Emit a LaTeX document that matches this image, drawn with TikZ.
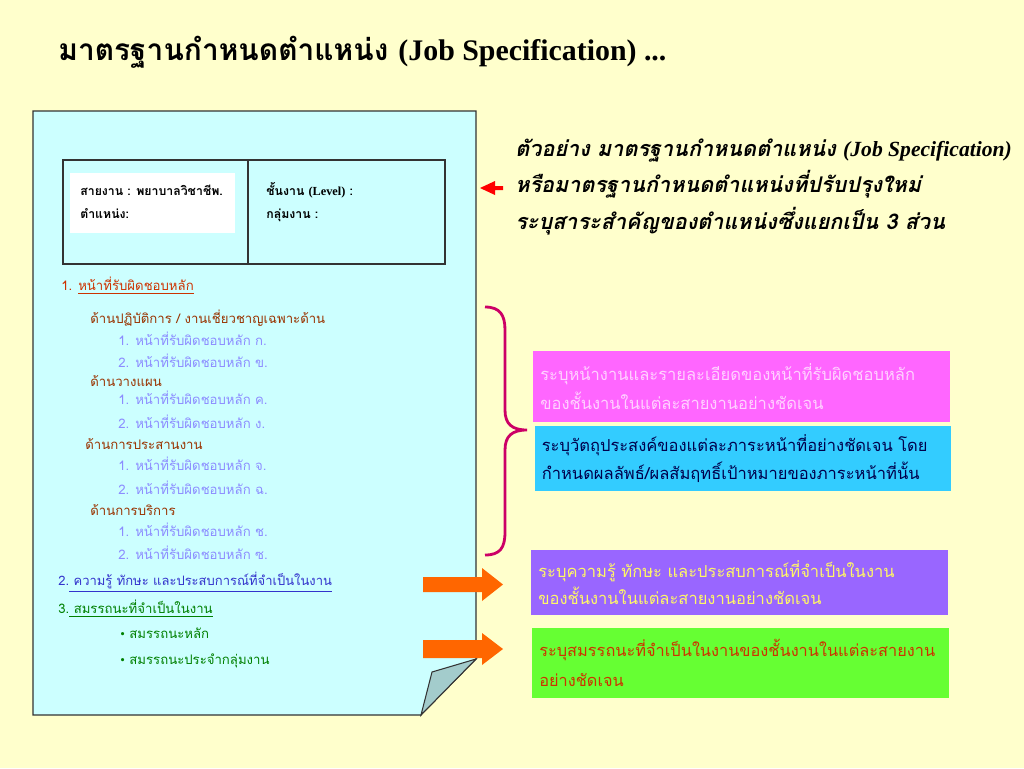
\documentclass[tikz,border=0pt]{standalone}
\usepackage{fontspec}
\setmainfont{Liberation Serif}
\newfontfamily\thai[Script=Thai]{Loma}
\usetikzlibrary{positioning}
\definecolor{bgyellow}{HTML}{FFFFCC}
\definecolor{pagecyan}{HTML}{CCFFFF}
\definecolor{foldgray}{HTML}{A3CCCC}
\definecolor{headred}{HTML}{CC3300}
\definecolor{subbrown}{HTML}{993300}
\definecolor{itemblue}{HTML}{8C8CFF}
\definecolor{knowblue}{HTML}{3333CC}
\definecolor{compgreen}{HTML}{008000}
\definecolor{bracecol}{HTML}{CC0066}
\definecolor{pinkbox}{HTML}{FF66FF}
\definecolor{cyanbox}{HTML}{33CCFF}
\definecolor{purplebox}{HTML}{9966FF}
\definecolor{greenbox}{HTML}{66FF33}
\definecolor{arroworange}{HTML}{FF6600}
\tikzset{
  item/.style={anchor=west, inner sep=0pt, font=\thai\fontsize{7.5}{9}\selectfont},
  cell/.style={anchor=west, inner sep=0pt, align=left,
               font=\thai\bfseries\fontsize{7}{13}\selectfont},
  infobox/.style={inner sep=0pt, align=left, text width=8.05cm,
                  minimum width=8.34cm, font=\thai\fontsize{9.4}{17}\selectfont},
  bracelink/.style={draw=bracecol, line width=1.6pt},
  blockarrow/.style={fill=arroworange}
}
\begin{document}
\begin{tikzpicture}[x=0.02cm,y=-0.02cm]
  \fill[bgyellow] (0,0) rectangle (1024,768);
  \useasboundingbox (0,0) rectangle (1024,768);

  % title
  \node[anchor=west, inner sep=0pt] (title) at (58,52)
    {\thai\bfseries\fontsize{17}{20}\selectfont มาตรฐานกำหนดตำแหน่ง
     {\rmfamily\bfseries (Job Specification) ...}};

  % page with folded corner
  \draw[fill=pagecyan, draw=black!80, line width=0.6pt]
    (33,111) -- (476,111) -- (476,659) -- (421,715) -- (33,715) -- cycle;
  \draw[fill=foldgray, draw=black!80, line width=0.6pt]
    (476,659) -- (432,672) -- (421,715) -- cycle;

  % heading table
  \draw[draw=black!80, line width=0.6pt] (63,160) rectangle (445,264);
  \draw[draw=black!80, line width=0.6pt] (248,160) -- (248,264);
  \fill[white] (70,173) rectangle (235,233);
  \node[cell] (line) at (80,202) {สายงาน : พยาบาลวิชาชีพ.\\ตำแหน่ง:};
  \node[cell] (level) at (266,202) {ชั้นงาน {\rmfamily(Level)} :\\กลุ่มงาน :};

  % part 1
  \node[item, text=headred] (duty) at (61,286)
    {1. \underline{หน้าที่รับผิดชอบหลัก}};
  \node[item, text=subbrown] (oper) at (90,318) {ด้านปฏิบัติการ / งานเชี่ยวชาญเฉพาะด้าน};
  \node[item, text=itemblue] (oper1) at (118,339) {1. หน้าที่รับผิดชอบหลัก ก.};
  \node[item, text=itemblue] (oper2) at (118,361) {2. หน้าที่รับผิดชอบหลัก ข.};
  \node[item, text=subbrown] (plan) at (90,381) {ด้านวางแผน};
  \node[item, text=itemblue] (plan1) at (118,398) {1. หน้าที่รับผิดชอบหลัก ค.};
  \node[item, text=itemblue] (plan2) at (118,422) {2. หน้าที่รับผิดชอบหลัก ง.};
  \node[item, text=subbrown] (coord) at (85,444) {ด้านการประสานงาน};
  \node[item, text=itemblue] (coord1) at (118,464) {1. หน้าที่รับผิดชอบหลัก จ.};
  \node[item, text=itemblue] (coord2) at (118,488) {2. หน้าที่รับผิดชอบหลัก ฉ.};
  \node[item, text=subbrown] (serv) at (90,510) {ด้านการบริการ};
  \node[item, text=itemblue] (serv1) at (118,530) {1. หน้าที่รับผิดชอบหลัก ช.};
  \node[item, text=itemblue] (serv2) at (118,553) {2. หน้าที่รับผิดชอบหลัก ซ.};

  % parts 2 and 3
  \node[item, text=knowblue, font=\thai\fontsize{7.4}{9}\selectfont] (know) at (58,582)
    {2.\underline{ ความรู้ ทักษะ และประสบการณ์ที่จำเป็นในงาน}};
  \node[item, text=compgreen] (comp) at (58,609)
    {3.\underline{ สมรรถนะที่จำเป็นในงาน}};
  \node[item, text=compgreen] (core) at (120,633) {{\rmfamily\textbullet}\ สมรรถนะหลัก};
  \node[item, text=compgreen] (group) at (120,661) {{\rmfamily\textbullet}\ สมรรถนะประจำกลุ่มงาน};

  % note on the right
  \node[anchor=west, inner sep=0pt, align=left,
        font=\thai\bfseries\itshape\fontsize{12.3}{21}\selectfont] (note) at (515,187)
    {ตัวอย่าง มาตรฐานกำหนดตำแหน่ง {\rmfamily\bfseries\itshape(Job Specification)}\\
     หรือมาตรฐานกำหนดตำแหน่งที่ปรับปรุงใหม่\\
     ระบุสาระสำคัญของตำแหน่งซึ่งแยกเป็น 3 ส่วน};
  \fill[red] (480,188) -- (495,181) -- (495,186) -- (503,186)
    -- (503,190) -- (495,190) -- (495,195) -- cycle;

  % brace
  \draw[bracelink] (485,307) .. controls (500,307) and (505,315) .. (505,330)
    -- (505,410) .. controls (505,424) and (512,430) .. (527,430)
    .. controls (512,430) and (505,436) .. (505,450)
    -- (505,532) .. controls (505,548) and (500,555) .. (485,555);

  % explanation boxes
  \node[infobox, fill=pinkbox, text=pinkbox!30!white, minimum height=1.42cm] (dutybox) at (741.5,386.5)
    {ระบุหน้างานและรายละเอียดของหน้าที่รับผิดชอบหลัก\\ของชั้นงานในแต่ละสายงานอย่างชัดเจน};
  \node[infobox, fill=cyanbox, text=black!70!blue, minimum height=1.3cm,
        font=\thai\fontsize{9.4}{15.5}\selectfont] (goalbox) at (743,458.5)
    {ระบุวัตถุประสงค์ของแต่ละภาระหน้าที่อย่างชัดเจน โดย\\กำหนดผลลัพธ์/ผลสัมฤทธิ์เป้าหมายของภาระหน้าที่นั้น};
  \node[infobox, fill=purplebox, text=yellow!60!white, minimum height=1.3cm,
        font=\thai\fontsize{9.4}{15.5}\selectfont] (knowbox) at (739.5,582.5)
    {ระบุความรู้ ทักษะ และประสบการณ์ที่จำเป็นในงาน\\ของชั้นงานในแต่ละสายงานอย่างชัดเจน};
  \node[infobox, fill=greenbox, text=headred, minimum height=1.4cm,
        font=\thai\fontsize{9.3}{17}\selectfont] (compbox) at (740.5,663)
    {ระบุสมรรถนะที่จำเป็นในงานของชั้นงานในแต่ละสายงาน\\อย่างชัดเจน};

  % block arrows
  \fill[blockarrow] (423,577) -- (482,577) -- (482,568) -- (503,584.5)
    -- (482,601) -- (482,592) -- (423,592) -- cycle;
  \fill[blockarrow] (423,640) -- (482,640) -- (482,633) -- (503,649)
    -- (482,665) -- (482,658) -- (423,658) -- cycle;
\end{tikzpicture}
\end{document}
